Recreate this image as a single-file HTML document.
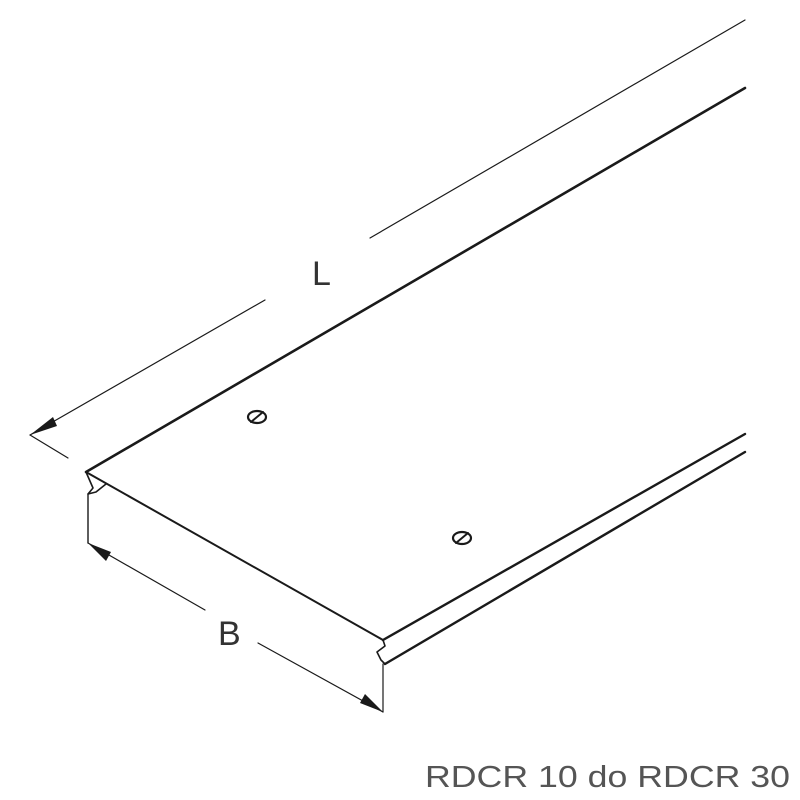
<!DOCTYPE html>
<html><head><style>body{margin:0;background:#fff}svg{display:block}</style></head><body>
<svg width="800" height="800" viewBox="0 0 800 800" xmlns="http://www.w3.org/2000/svg">
<g fill="none" stroke="#1a1a1a" stroke-linecap="round" stroke-linejoin="round">
<line x1="86" y1="472" x2="745" y2="88" stroke-width="2.6"/>
<line x1="86" y1="472" x2="383" y2="640" stroke-width="2"/>
<line x1="383" y1="640" x2="745" y2="434" stroke-width="2.4"/>
<line x1="385" y1="664" x2="745" y2="452" stroke-width="2.4"/>
<polyline points="86,472 93,488 88,494 96,492 106,484" stroke-width="1.6"/>
<line x1="88" y1="494" x2="88" y2="543" stroke-width="1.4"/>
<polyline points="383,640 385,646 377,652 381,660 385,664" stroke-width="1.6"/>
<line x1="383" y1="664" x2="383" y2="712" stroke-width="1.2"/>
<line x1="88" y1="543" x2="205" y2="610" stroke-width="1.2"/>
<line x1="258" y1="643" x2="383" y2="712" stroke-width="1.2"/>
<line x1="30" y1="435" x2="265" y2="300" stroke-width="1.2"/>
<line x1="370" y1="238" x2="745" y2="20" stroke-width="1.2"/>
<line x1="30" y1="435" x2="68" y2="458" stroke-width="1.2"/>
<ellipse cx="257" cy="417" rx="9" ry="6" stroke-width="2.2"/>
<line x1="251" y1="422" x2="263" y2="412" stroke-width="2"/>
<ellipse cx="462" cy="538" rx="9" ry="6" stroke-width="2.2"/>
<line x1="456" y1="543" x2="468" y2="533" stroke-width="2"/>
</g>
<g fill="#1a1a1a">
<polygon points="30,435 53,417 57,426"/>
<polygon points="88,543 111,552 106,561"/>
<polygon points="383,712 360,703 365,694"/>
</g>
<g font-family="Liberation Sans, sans-serif" fill="#333">
<text x="312" y="285" font-size="34">L</text>
<text x="218" y="645" font-size="34">B</text>
<text x="425" y="787" font-size="31" textLength="365" lengthAdjust="spacingAndGlyphs" fill="#555">RDCR 10 do RDCR 30</text>
</g>
</svg>
</body></html>
